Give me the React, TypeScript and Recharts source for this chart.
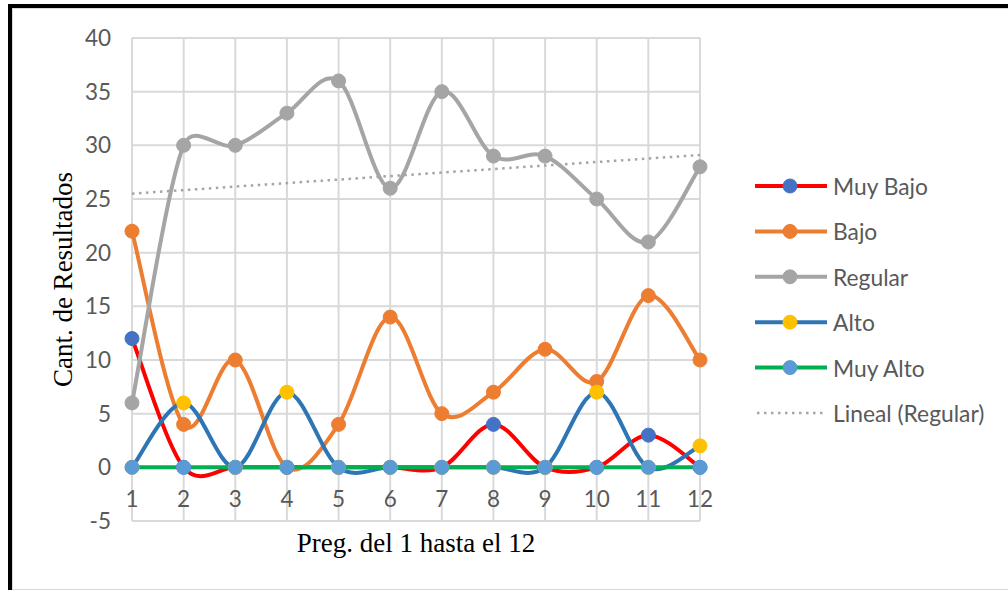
import React from 'react';
import { LineChart, Line, XAxis, YAxis, CartesianGrid } from 'recharts';

const categories = ['1', '2', '3', '4', '5', '6', '7', '8', '9', '10', '11', '12'];
const muyBajo = [12, 0, 0, 0, 0, 0, 0, 4, 0, 0, 3, 0];
const bajo = [22, 4, 10, 0, 4, 14, 5, 7, 11, 8, 16, 10];
const regular = [6, 30, 30, 33, 36, 26, 35, 29, 29, 25, 21, 28];
const alto = [0, 6, 0, 7, 0, 0, 0, 0, 0, 7, 0, 2];
const muyAlto = [0, 0, 0, 0, 0, 0, 0, 0, 0, 0, 0, 0];
const trendRegular: (number | null)[] = [25.5, null, null, null, null, null, null, null, null, null, null, 29.1];
const yTicks = [-5, 0, 5, 10, 15, 20, 25, 30, 35, 40];

const seriesNames = ['Muy Bajo', 'Bajo', 'Regular', 'Alto', 'Muy Alto'];
const seriesKeys = ['muyBajo', 'bajo', 'regular', 'alto', 'muyAlto'];
const lineColors = ['#FF0000', '#ED7D31', '#A5A5A5', '#2E75B6', '#00B050'];
const markerColors = ['#4472C4', '#ED7D31', '#A5A5A5', '#FFC000', '#5B9BD5'];
const trendName = 'Lineal (Regular)';
const xTitle = 'Preg. del 1 hasta el 12';
const yTitle = 'Cant. de Resultados';

const data = categories.map((c, i) => ({
  q: c,
  muyBajo: muyBajo[i],
  bajo: bajo[i],
  regular: regular[i],
  alto: alto[i],
  muyAlto: muyAlto[i],
  trend: trendRegular[i],
}));

const SANS = 'Lato, "Liberation Sans", sans-serif';
const SERIF = '"Liberation Serif", "Times New Roman", serif';
const TICK_COLOR = '#595959';

// Excel-like smoothed curve (Bezier with 1/6 tangents, capped at half the segment)
function excelSmooth(context: any) {
  let pts: number[][] = [];
  const dist = (a: number[], b: number[]) => Math.hypot(b[0] - a[0], b[1] - a[1]);
  return {
    areaStart() {},
    areaEnd() {},
    lineStart() {
      pts = [];
    },
    point(x: number, y: number) {
      pts.push([+x, +y]);
    },
    lineEnd() {
      const n = pts.length;
      if (n === 0) return;
      context.moveTo(pts[0][0], pts[0][1]);
      for (let i = 0; i < n - 1; i++) {
        const p0 = pts[Math.max(i - 1, 0)];
        const p1 = pts[i];
        const p2 = pts[i + 1];
        const p3 = pts[Math.min(i + 2, n - 1)];
        const d12 = dist(p1, p2);
        const d02 = dist(p0, p2);
        const d13 = dist(p1, p3);
        const a1 = d02 > 0 ? Math.min(d02 / 6, d12 / 2) / d02 : 0;
        const a2 = d13 > 0 ? Math.min(d13 / 6, d12 / 2) / d13 : 0;
        const c1x = p1[0] + (p2[0] - p0[0]) * a1;
        const c1y = p1[1] + (p2[1] - p0[1]) * a1;
        const c2x = p2[0] - (p3[0] - p1[0]) * a2;
        const c2y = p2[1] - (p3[1] - p1[1]) * a2;
        context.bezierCurveTo(c1x, c1y, c2x, c2y, p2[0], p2[1]);
      }
    },
  };
}

const XTick = (props: any) => {
  const { x, y, payload } = props;
  return (
    <text x={x} y={y - 23} textAnchor="middle" dominantBaseline="central" fill={TICK_COLOR} fontSize={22.5} fontFamily={SANS}>
      {payload.value}
    </text>
  );
};

const Legend = () => {
  const top = 186;
  const step = 45.4;
  return (
    <svg width={260} height={260} style={{ position: 'absolute', left: 745, top: top - 20, overflow: 'visible' }}>
      {seriesNames.map((name, i) => {
        const cy = 20 + i * step;
        return (
          <g key={name}>
            <line x1={10} x2={82} y1={cy} y2={cy} stroke={lineColors[i]} strokeWidth={4} />
            <circle cx={45} cy={cy} r={7} fill={markerColors[i]} stroke={markerColors[i]} strokeWidth={1} />
            <text x={88} y={cy} dominantBaseline="central" fill={TICK_COLOR} fontSize={22.8} fontFamily={SANS}>
              {name}
            </text>
          </g>
        );
      })}
      <line x1={12} x2={82} y1={20 + 5 * step} y2={20 + 5 * step} stroke="#A5A5A5" strokeWidth={2.5} strokeDasharray="2.5 4.5" />
      <text x={88} y={20 + 5 * step} dominantBaseline="central" fill={TICK_COLOR} fontSize={22.8} fontFamily={SANS}>
        {trendName}
      </text>
    </svg>
  );
};

export default function App() {
  return (
    <div style={{ position: 'absolute', left: 0, top: 0, width: 1008, height: 590, overflow: 'hidden', background: '#fff' }}>
      <div
        style={{
          position: 'absolute',
          left: 8,
          top: 4,
          width: 1020,
          height: 586,
          borderTop: '4px solid #000',
          borderLeft: '4px solid #000',
          boxSizing: 'border-box',
        }}
      >
        <div style={{ position: 'absolute', left: 0, top: 0, right: 0, bottom: 0, borderTop: '1px solid #d9d9d9', borderLeft: '1px solid #d9d9d9', borderBottom: '1px solid #d9d9d9' }} />
      </div>
      <div style={{ position: 'absolute', left: 0, top: 0 }}>
        <LineChart width={1008} height={590} data={data} margin={{ top: 38, right: 308, bottom: 39, left: 72 }}>
          <CartesianGrid stroke="#d9d9d9" strokeWidth={2} horizontal vertical />
          <XAxis
            dataKey="q"
            axisLine={false}
            tickLine={false}
            tickSize={0}
            tickMargin={0}
            height={30}
            interval={0}
            tick={<XTick />}
            label={{
              content: (p: any) => {
                const vb = p.viewBox;
                return (
                  <text x={vb.x + vb.width / 2} y={552} textAnchor="middle" fill="#000" fontSize={27} fontFamily={SERIF}>
                    {xTitle}
                  </text>
                );
              },
            }}
          />
          <YAxis
            type="number"
            domain={[-5, 40]}
            ticks={yTicks}
            interval={0}
            allowDataOverflow
            axisLine={false}
            tickLine={false}
            tickSize={0}
            tickMargin={21}
            width={60}
            tick={{ fill: TICK_COLOR, fontSize: 22.5, fontFamily: SANS }}
            label={{
              content: (p: any) => {
                const vb = p.viewBox;
                const cx = 72;
                const cy = vb.y + vb.height / 2;
                return (
                  <text
                    x={cx}
                    y={cy}
                    textAnchor="middle"
                    transform={`rotate(-90, ${cx}, ${cy})`}
                    fill="#000"
                    fontSize={27}
                    fontFamily={SERIF}
                  >
                    {yTitle}
                  </text>
                );
              },
            }}
          />
          {seriesKeys.map((k, i) => (
            <Line
              key={k}
              dataKey={k}
              name={seriesNames[i]}
              type={excelSmooth as any}
              stroke={lineColors[i]}
              strokeWidth={4}
              dot={{ r: 7, fill: markerColors[i], stroke: markerColors[i], strokeWidth: 1 }}
              activeDot={false}
              isAnimationActive={false}
            />
          ))}
          <Line
            dataKey="trend"
            name={trendName}
            type="linear"
            connectNulls
            stroke="#A5A5A5"
            strokeWidth={2.5}
            strokeDasharray="2.5 4.5"
            dot={false}
            activeDot={false}
            isAnimationActive={false}
          />
        </LineChart>
      </div>
      <Legend />
    </div>
  );
}
